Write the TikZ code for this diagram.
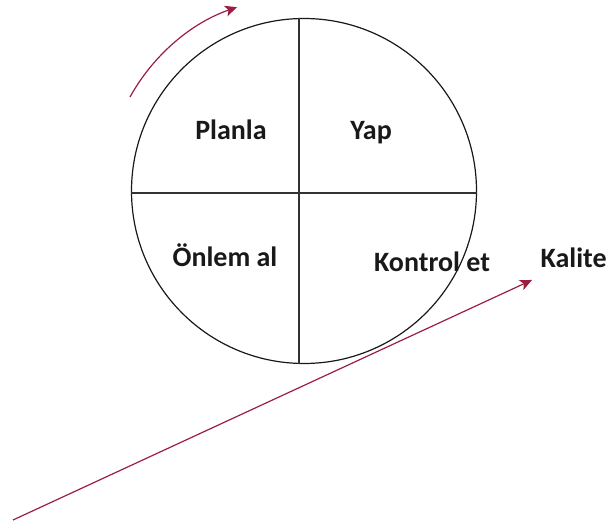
\documentclass[tikz,border=0pt]{standalone}
\usepackage{fontspec}
\setmainfont{Carlito}
\usetikzlibrary{arrows.meta,positioning,calc}
\definecolor{ink}{RGB}{25,25,25}
\definecolor{rule}{RGB}{50,50,50}
\definecolor{wine}{RGB}{155,30,65}
\tikzset{
  every picture/.style={color=ink, line width=1.2pt},
  wheel/.style={draw=ink, circle, inner sep=0pt, minimum size=345pt, line width=1.2pt},
  divider/.style={draw=rule, line width=1.8pt},
  phase/.style={font=\bfseries\fontsize{28}{32}\selectfont, text=ink, inner sep=0pt, anchor=base},
  turn/.style={-{Stealth[length=12pt,width=11pt,inset=3pt]}, draw=wine, line width=1.2pt},
}

\begin{document}
\begin{tikzpicture}[x=1pt, y=1pt]
  \useasboundingbox (0,0) rectangle (609,529);
  % the wheel, split in four
  \node[wheel] (cycle) at (304,338) {};
  \draw[divider] ([xshift=-5pt]cycle.north) -- ([xshift=-5pt]cycle.south);
  \draw[divider] ([yshift=-2pt]cycle.west) -- ([yshift=-2pt]cycle.east);
  \node[phase] (plan) at (231,389) {Planla};
  \node[phase] (do) at (371,389) {Yap};
  \node[phase] (act) at (225,262) {Önlem al};
  \node[phase] (check) at (432,257) {Kontrol et};
  % turning direction and the rise in quality
  \coordinate (turnstart) at (130,432);
  \draw[turn] (turnstart) arc[start angle=151, end angle=109, radius=195pt];
  \node[phase, anchor=base west] (quality) at (540,261) {Kalite};
  \coordinate (risestart) at (13,9);
  \draw[turn] (risestart) -- ([xshift=-8pt,yshift=-12pt]quality.base west);
\end{tikzpicture}
\end{document}
